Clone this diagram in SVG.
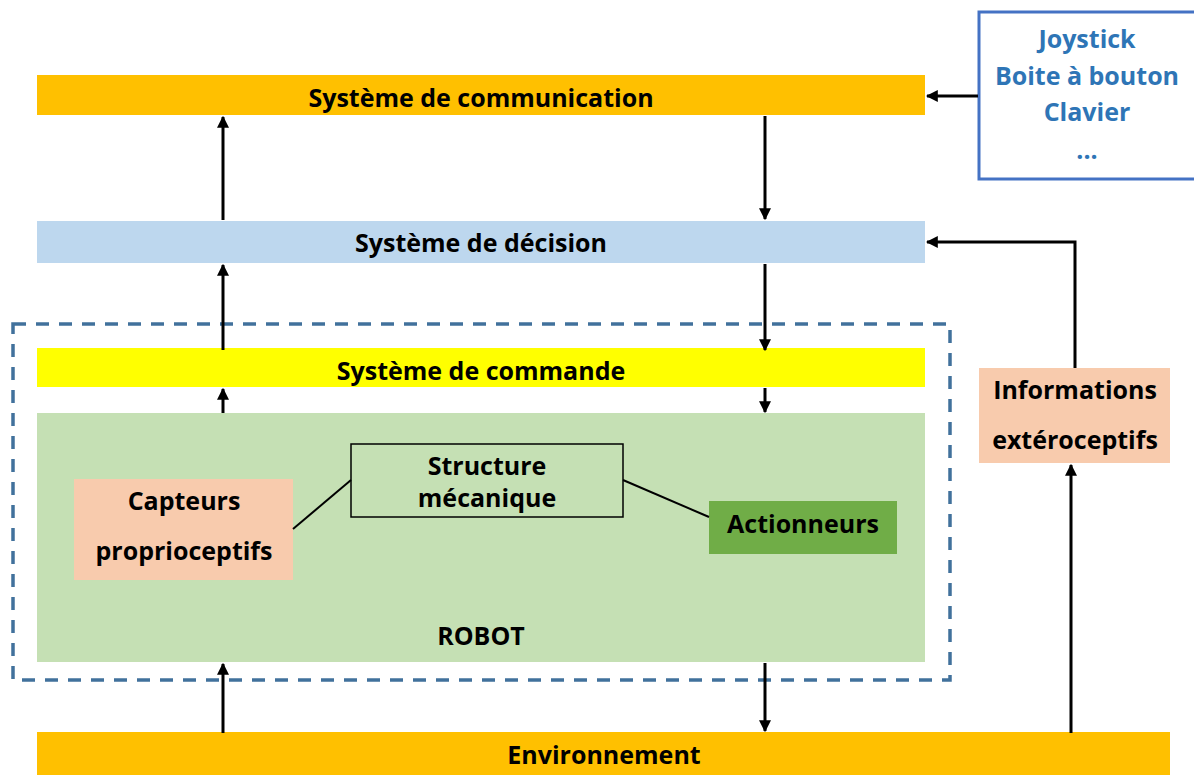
<svg xmlns="http://www.w3.org/2000/svg" width="1194" height="775" viewBox="0 0 1194 775">
<style>
.t{font-family:"Open Sans","Liberation Sans",sans-serif;font-weight:bold;font-size:25px;fill:#000;text-anchor:middle;dominant-baseline:central}
.b{font-family:"Open Sans","Liberation Sans",sans-serif;font-weight:bold;font-size:25px;fill:#2E75B6;text-anchor:middle;dominant-baseline:central}
.c{stroke:#000;stroke-width:3;fill:none}
.l{stroke:#000;stroke-width:2;fill:none}
</style>
<defs>
<marker id="ah" viewBox="0 0 10 10" refX="9" refY="5" markerWidth="4" markerHeight="4" orient="auto" markerUnits="strokeWidth">
<path d="M0,0 L10,5 L0,10 Z" fill="#000"/>
</marker>
</defs>
<rect width="1194" height="775" fill="#fff"/>
<g id="robot-boundary">
<rect x="13" y="324" width="937" height="356" fill="none" stroke="#41719C" stroke-width="3.5" stroke-dasharray="13,10"/>
</g>
<g id="communication">
<rect x="37" y="75" width="888" height="40" fill="#FFC000"/>
<text class="t" x="481" y="97">Système de communication</text>
</g>
<g id="input-devices">
<rect x="979" y="12" width="220" height="167" fill="#fff" stroke="#4472C4" stroke-width="3"/>
<text class="b" x="1087" y="38">Joystick</text>
<text class="b" x="1087" y="75">Boite à bouton</text>
<text class="b" x="1087" y="111">Clavier</text>
<text class="b" x="1087" y="149">...</text>
</g>
<g id="decision">
<rect x="37" y="221" width="888" height="42" fill="#BDD7EE"/>
<text class="t" x="481" y="242">Système de décision</text>
</g>
<g id="commande">
<rect x="37" y="348" width="888" height="39" fill="#FFFF00"/>
<text class="t" x="481" y="370">Système de commande</text>
</g>
<g id="robot">
<rect x="37" y="413" width="888" height="249" fill="#C5E0B4"/>
<text class="t" x="481" y="635">ROBOT</text>
</g>
<g id="capteurs">
<rect x="74" y="479" width="219" height="101" fill="#F8CBAD"/>
<text class="t" x="184" y="500">Capteurs</text>
<text class="t" x="184" y="550">proprioceptifs</text>
</g>
<g id="structure">
<rect x="351" y="444" width="272" height="73" fill="none" stroke="#000" stroke-width="1.5"/>
<text class="t" x="487" y="465">Structure</text>
<text class="t" x="487" y="497">mécanique</text>
</g>
<g id="actionneurs">
<rect x="709" y="501" width="188" height="53" fill="#70AD47"/>
<text class="t" x="803" y="523">Actionneurs</text>
</g>
<g id="exteroceptifs">
<rect x="979" y="368" width="191" height="95" fill="#F8CBAD"/>
<text class="t" x="1075" y="389">Informations</text>
<text class="t" x="1075" y="439">extéroceptifs</text>
</g>
<g id="environnement">
<rect x="37" y="732" width="1133" height="43" fill="#FFC000"/>
<text class="t" x="604" y="754">Environnement</text>
</g>
<g id="connectors">
<line class="c" x1="978" y1="96" x2="927" y2="96" marker-end="url(#ah)"/>
<line class="c" x1="223" y1="220" x2="223" y2="117" marker-end="url(#ah)"/>
<line class="c" x1="765" y1="116" x2="765" y2="219" marker-end="url(#ah)"/>
<line class="c" x1="223" y1="350" x2="223" y2="265" marker-end="url(#ah)"/>
<line class="c" x1="765" y1="264" x2="765" y2="350" marker-end="url(#ah)"/>
<line class="c" x1="223" y1="413" x2="223" y2="389" marker-end="url(#ah)"/>
<line class="c" x1="765" y1="388" x2="765" y2="412" marker-end="url(#ah)"/>
<line class="c" x1="223" y1="733" x2="223" y2="664" marker-end="url(#ah)"/>
<line class="c" x1="765" y1="663" x2="765" y2="731" marker-end="url(#ah)"/>
<line class="c" x1="1071" y1="733" x2="1071" y2="465" marker-end="url(#ah)"/>
<polyline class="c" points="1075,368 1075,242 927,242" marker-end="url(#ah)"/>
<line class="l" x1="293" y1="529" x2="351" y2="480"/>
<line class="l" x1="623" y1="480" x2="709" y2="517"/>
</g>
</svg>
